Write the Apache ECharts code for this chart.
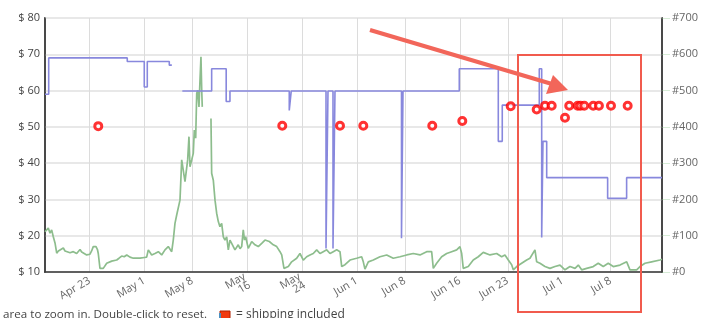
<!DOCTYPE html>
<html>
<head>
<meta charset="utf-8">
<script src="https://cdn.jsdelivr.net/npm/echarts@6/dist/echarts.min.js"></script>
<style>
html,body{margin:0;padding:0;background:#fff;}
#c{width:708px;height:318px;}
</style>
</head>
<body>
<div id="c"></div>
<script>
// x values are days relative to Apr 23 (day 0)
const dayMin = -6.5, dayMax = 83.5;
const tickDays = [0, 8, 15, 23, 31, 39, 46, 54, 61, 69, 76];
const tickLabels = ['Apr 23', 'May 1', 'May 8', 'May\n16', 'May\n24', 'Jun 1', 'Jun 8', 'Jun 16', 'Jun 23', 'Jul 1', 'Jul 8'];

const priceTicks = { min: 10, max: 80, interval: 10 };
const rankTicks = { min: 0, max: 700, interval: 100 };

// Blue price (step, $)
const bluePrice = [
  [-6.5, 59], [-5.96, 69], [5.50, 68], [7.98, 61], [8.42, 68], [11.63, 67], [11.80, 67], [12.0, null],
  [13.53, 59.9], [17.81, 66], [19.93, 57], [20.48, 59.9], [29.13, 54.5], [29.42, 59.9],
  [34.49, 16.5], [34.78, 59.9], [35.51, 16.5], [35.80, 59.9], [45.50, 19.3], [45.72, 59.9],
  [53.93, 66], [59.62, 46], [60.20, 56], [65.60, 66], [65.95, 19.5], [66.14, 46], [66.68, 36],
  [75.57, 30.3], [78.34, 36], [83.5, 36]
];

// Green sales rank (#)
const greenRank = [
  [-6.5,111],[-6.02,121],[-5.77,107],[-5.53,116],[-5.29,97],[-5.04,80],[-4.79,52],[-4.55,58],[-4.31,61],
  [-3.83,66],[-3.58,58],[-3.33,56],[-2.85,53],[-2.6,57],[-2.37,56],[-1.88,51],[-1.63,56],[-1.39,62],
  [-1.15,55],[-0.91,53],[-0.42,47],[0.06,49],[0.3,58],[0.54,70],[0.94,70],[1.15,62],[1.27,51],[1.52,10],
  [2.0,10],[2.5,24],[3.23,30],[3.96,33],[4.3,38],[4.69,44],[5.05,42],[5.42,47],[5.9,41],[6.38,38],
  [7.36,38],[8.0,40],[8.33,41],[8.57,61],[9.06,47],[9.54,51],[10.03,56],[10.52,47],[11.0,61],[11.48,70],
  [11.98,56],[12.21,88],[12.46,134],[12.71,157],[12.94,157],[13.19,198],[13.44,309],[13.67,313],
  [13.92,249],[14.16,244],[14.31,309],[14.5,373],[14.65,290],[14.9,309],[15.13,327],[15.28,391],
  [15.48,369],[15.63,492],[15.77,501],[15.96,455],[16.11,529],[16.25,593],[16.36,501],[16.44,455],
  [17.0,null],
  [17.71,423],[17.81,272],[18.05,253],[18.3,198],[18.54,162],[18.78,139],[19.02,125],[19.27,134],
  [19.51,97],[19.75,88],[20.0,97],[20.24,61],[20.48,88],[20.73,79],[21.21,61],[21.69,75],[21.95,64],
  [22.19,70],[22.42,116],[22.6,88],[22.77,97],[23.15,65],[23.65,84],[24.13,75],[24.61,70],[25.11,79],
  [25.59,88],[25.84,93],[26.22,84],[26.8,75],[27.3,70],[27.78,56],[28.03,47],[28.36,10],[28.99,15],
  [29.48,28],[30.21,38],[30.69,51],[31.18,33],[31.67,42],[32.15,47],[32.63,51],[33.13,61],[33.61,51],
  [34.09,56],[34.59,61],[35.07,51],[35.55,56],[36.05,61],[36.53,56],[36.78,15],[37.26,20],[37.99,33],
  [38.96,38],[39.69,42],[39.93,28],[40.17,8],[40.66,28],[41.39,33],[42.36,42],[43.34,47],[44.3,38],
  [45.28,42],[46.26,47],[47.22,51],[48.2,47],[49.17,56],[49.9,56],[50.14,10],[50.63,24],[51.36,42],
  [52.09,51],[52.82,56],[53.55,61],[54.03,70],[54.28,51],[54.51,10],[55.24,15],[55.97,33],[56.7,42],
  [57.43,54],[58.41,47],[59.38,51],[60.11,42],[60.59,47],[61.08,33],[61.57,20],[61.81,6],[62.3,15],
  [63.03,24],[63.76,33],[64.24,38],[64.97,61],[65.22,28],[65.7,24],[66.43,15],[67.16,10],[67.89,15],
  [68.62,19],[69.35,6],[70.08,15],[70.81,10],[71.29,19],[71.78,6],[72.51,10],[73.47,15],[74.2,24],
  [74.93,15],[75.66,24],[76.39,15],[77.37,19],[78.35,28],[78.83,6],[79.8,6],[80.29,15],[81.02,24],
  [81.99,28],[83.2,33],[83.5,35]
];

// Red points ($, shipping included)
const redPoints = [
  [1.27,50.2],[28.11,50.3],[36.53,50.3],[39.93,50.3],[49.99,50.3],[54.37,51.6],[61.43,55.7],
  [65.22,54.8],[66.43,55.8],[67.41,55.8],[69.35,52.5],[69.97,55.8],[71.20,55.8],[71.61,55.8],
  [72.16,55.8],[73.47,55.8],[74.30,55.8],[76.06,55.8],[78.49,55.8]
];

const stepsPerDay = 4;
const nCats = Math.round((dayMax - dayMin) * stepsPerDay) + 1;
const cats = [];
for (let i = 0; i < nCats; i++) cats.push(String(i));
const tickMap = {};
tickDays.forEach((d, k) => { tickMap[Math.round((d - dayMin) * stepsPerDay)] = tickLabels[k]; });
const isTick = (idx) => tickMap[idx] !== undefined;

const FONT = 'Open Sans';
const chart = echarts.init(document.getElementById('c'), null, { renderer: 'canvas' });
chart.setOption({
  animation: false,
  textStyle: { fontFamily: FONT },
  grid: { left: 45, right: 46, top: 18, bottom: 46, show: true, borderColor: '#8a8a8a', borderWidth: 2 },
  xAxis: [
    { type: 'value', min: dayMin, max: dayMax, show: false, axisLine: { onZero: false } },
    {
      type: 'category', data: cats, boundaryGap: false, position: 'bottom',
      axisLine: { show: true, onZero: false, lineStyle: { color: '#333', width: 1.5 } },
      axisTick: { show: false },
      axisLabel: {
        interval: (idx) => isTick(idx), rotate: 30, margin: 8,
        formatter: (v, idx) => tickMap[idx] || '',
        color: '#666', fontSize: 11, fontFamily: FONT, lineHeight: 10
      },
      splitLine: { show: true, interval: (idx) => isTick(idx), lineStyle: { color: '#dcdcdc', width: 1 } }
    }
  ],
  yAxis: [
    {
      type: 'value', min: priceTicks.min, max: priceTicks.max, interval: priceTicks.interval, position: 'left',
      axisLine: { show: true, onZero: false, lineStyle: { color: '#333', width: 1.5 } },
      axisTick: { show: false },
      axisLabel: { formatter: '$ {value}', color: '#444', fontSize: 11, fontFamily: FONT, margin: 5 },
      splitLine: { show: true, lineStyle: { color: '#e8e8e8', width: 2 } }
    },
    {
      type: 'value', min: rankTicks.min, max: rankTicks.max, interval: rankTicks.interval, position: 'right',
      axisLine: { show: true, onZero: false, lineStyle: { color: '#333', width: 1.5 } },
      axisTick: { show: true, length: 8, lineStyle: { color: 'rgba(140,200,140,0.35)' } },
      axisLabel: { formatter: '#{value}', color: '#666', fontSize: 11, fontFamily: FONT, margin: 10 },
      splitLine: { show: false }
    }
  ],
  series: [
    {
      name: 'Price', type: 'line', step: 'end', xAxisIndex: 0, yAxisIndex: 0,
      data: bluePrice, showSymbol: false, connectNulls: false,
      lineStyle: { color: '#8888dd', width: 1.6 }, z: 3
    },
    {
      name: 'Sales Rank', type: 'line', xAxisIndex: 0, yAxisIndex: 1,
      data: greenRank, showSymbol: false, connectNulls: false,
      lineStyle: { color: '#8dbd8d', width: 1.7 }, z: 2
    },
    {
      name: 'Shipping', type: 'scatter', xAxisIndex: 0, yAxisIndex: 0,
      data: redPoints, symbol: 'circle', symbolSize: 7,
      itemStyle: { color: '#fff', borderColor: '#ff0000', borderWidth: 3 }, z: 5
    }
  ],
  graphic: [
    { type: 'rect', shape: { x: 518, y: 55, width: 123, height: 257 }, style: { fill: 'none', stroke: '#f15b4e', lineWidth: 2 }, z: 50 },
    { type: 'line', shape: { x1: 370, y1: 30, x2: 552, y2: 84 }, style: { stroke: '#f2665a', lineWidth: 4 }, z: 50 },
    { type: 'polygon', shape: { points: [[568, 90], [553, 75], [546, 94]] }, style: { fill: '#f2665a' }, z: 50 },
    { type: 'text', x: 207, y: 309, style: { text: 'Select area to zoom in. Double-click to reset.', fill: '#444', font: '11.6px "Open Sans"', textAlign: 'right', textVerticalAlign: 'top' }, z: 50 },
    { type: 'rect', shape: { x: 220, y: 311, width: 10, height: 9 }, style: { fill: '#f03a10', stroke: '#b02000', lineWidth: 1 }, z: 50 },
    { type: 'rect', shape: { x: 219, y: 313, width: 2, height: 6 }, style: { fill: '#4a90c0' }, z: 51 },
    { type: 'text', x: 236, y: 309, style: { text: '= shipping included', fill: '#444', font: '12px "Open Sans"', textAlign: 'left', textVerticalAlign: 'top' }, z: 50 }
  ]
});
</script>
</body>
</html>
